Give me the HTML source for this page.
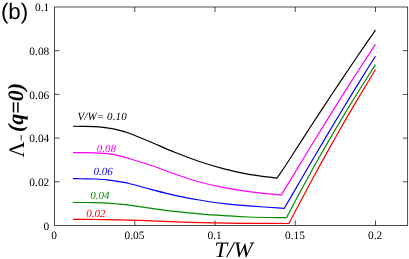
<!DOCTYPE html>
<html><head><meta charset="utf-8"><title>chart</title>
<style>html,body{margin:0;padding:0;background:#fff;overflow:hidden}svg{display:block;will-change:transform;text-rendering:geometricPrecision}</style></head>
<body>
<svg width="409" height="259" viewBox="0 0 409 259">
<rect width="409" height="259" fill="#fff"/>
<g stroke="#000" stroke-width="0.7" fill="none">
<rect x="54.5" y="7.0" width="353.2" height="218.5"/>
<path d="M134.75,225.50 v-5 M134.75,7.00 v5"/>
<path d="M215.00,225.50 v-5 M215.00,7.00 v5"/>
<path d="M295.25,225.50 v-5 M295.25,7.00 v5"/>
<path d="M375.50,225.50 v-5 M375.50,7.00 v5"/>
<path d="M54.50,181.80 h5 M407.75,181.80 h-5"/>
<path d="M54.50,138.10 h5 M407.75,138.10 h-5"/>
<path d="M54.50,94.40 h5 M407.75,94.40 h-5"/>
<path d="M54.50,50.70 h5 M407.75,50.70 h-5"/>
</g>
<path d="M73.00,126.25 C74.55,126.26 78.68,126.24 82.30,126.30 C85.92,126.36 90.58,126.33 94.70,126.60 C98.82,126.87 102.88,127.28 107.00,127.90 C111.12,128.52 115.72,129.40 119.40,130.30 C123.08,131.20 124.00,131.40 129.10,133.30 C134.20,135.20 142.40,138.53 150.00,141.70 C157.60,144.87 166.47,149.00 174.70,152.30 C182.93,155.60 191.17,158.73 199.40,161.50 C207.63,164.27 215.87,166.77 224.10,168.90 C232.33,171.03 239.98,172.77 248.80,174.30 C257.62,175.83 272.30,177.47 277.00,178.10 L285.95,165.02 L294.91,150.98 L303.86,137.06 L312.82,123.26 L321.77,109.57 L330.73,96.00 L339.68,82.56 L348.64,69.23 L357.59,56.02 L366.55,42.92 L375.50,30.10" fill="none" stroke="#000000" stroke-width="1.2" stroke-linejoin="round"/>
<path d="M73.00,152.65 C74.55,152.66 78.68,152.66 82.30,152.70 C85.92,152.74 90.58,152.73 94.70,152.90 C98.82,153.07 102.88,153.22 107.00,153.70 C111.12,154.18 115.72,155.00 119.40,155.80 C123.08,156.60 124.00,156.97 129.10,158.50 C134.20,160.03 142.40,162.42 150.00,165.00 C157.60,167.58 166.47,171.17 174.70,174.00 C182.93,176.83 191.17,179.72 199.40,182.00 C207.63,184.28 215.87,186.10 224.10,187.70 C232.33,189.30 239.28,190.37 248.80,191.60 C258.32,192.83 275.80,194.52 281.20,195.10 L289.77,181.17 L298.35,166.89 L306.92,152.74 L315.49,138.72 L324.06,124.83 L332.64,111.07 L341.21,97.43 L349.78,83.93 L358.35,70.55 L366.93,57.30 L375.50,44.40" fill="none" stroke="#ff00ff" stroke-width="1.2" stroke-linejoin="round"/>
<path d="M73.00,178.70 C74.55,178.71 78.68,178.70 82.30,178.75 C85.92,178.80 90.58,178.82 94.70,179.00 C98.82,179.18 102.88,179.35 107.00,179.80 C111.12,180.25 115.72,181.08 119.40,181.70 C123.08,182.32 124.00,182.27 129.10,183.50 C134.20,184.73 142.40,187.13 150.00,189.10 C157.60,191.07 166.47,193.48 174.70,195.30 C182.93,197.12 191.17,198.60 199.40,200.00 C207.63,201.40 215.87,202.72 224.10,203.70 C232.33,204.68 238.77,205.13 248.80,205.90 C258.83,206.67 278.38,207.90 284.30,208.30 L292.59,194.14 L300.88,179.78 L309.17,165.54 L317.46,151.43 L325.75,137.43 L334.05,123.55 L342.34,109.79 L350.63,96.16 L358.92,82.64 L367.21,69.24 L375.50,56.30" fill="none" stroke="#0000ff" stroke-width="1.2" stroke-linejoin="round"/>
<path d="M73.00,202.50 C74.55,202.50 78.68,202.48 82.30,202.50 C85.92,202.52 90.58,202.50 94.70,202.60 C98.82,202.70 102.88,202.83 107.00,203.10 C111.12,203.37 115.72,203.85 119.40,204.20 C123.08,204.55 124.00,204.55 129.10,205.20 C134.20,205.85 142.40,207.07 150.00,208.10 C157.60,209.13 166.47,210.45 174.70,211.40 C182.93,212.35 191.17,213.10 199.40,213.80 C207.63,214.50 215.87,215.07 224.10,215.60 C232.33,216.13 238.40,216.65 248.80,217.00 C259.20,217.35 280.22,217.58 286.50,217.70 L294.59,202.27 L302.68,187.23 L310.77,172.48 L318.86,158.01 L326.95,143.83 L335.05,129.94 L343.14,116.33 L351.23,103.01 L359.32,89.98 L367.41,77.23 L375.50,64.60" fill="none" stroke="#008b00" stroke-width="1.2" stroke-linejoin="round"/>
<path d="M73.00,219.40 C76.62,219.42 86.97,219.42 94.70,219.50 C102.43,219.58 111.85,219.75 119.40,219.90 C126.95,220.05 132.40,220.15 140.00,220.40 C147.60,220.65 156.67,221.08 165.00,221.40 C173.33,221.72 181.67,222.05 190.00,222.30 C198.33,222.55 206.67,222.73 215.00,222.90 C223.33,223.07 231.67,223.21 240.00,223.30 C248.33,223.39 256.83,223.42 265.00,223.45 C273.17,223.48 285.00,223.49 289.00,223.50 L296.86,208.32 L304.73,193.44 L312.59,178.78 L320.45,164.35 L328.32,150.15 L336.18,136.17 L344.05,122.42 L351.91,108.89 L359.77,95.59 L367.64,82.52 L375.50,69.50" fill="none" stroke="#ff0000" stroke-width="1.2" stroke-linejoin="round"/>
<g font-family="'Liberation Serif', serif" font-size="11.4" fill="#000">
<text x="54.20" y="238.6" text-anchor="middle">0</text>
<text x="134.45" y="238.6" text-anchor="middle">0.05</text>
<text x="214.70" y="238.6" text-anchor="middle">0.1</text>
<text x="294.95" y="238.6" text-anchor="middle">0.15</text>
<text x="375.20" y="238.6" text-anchor="middle">0.2</text>
<text x="49.3" y="229.80" text-anchor="end">0</text>
<text x="49.3" y="186.10" text-anchor="end">0.02</text>
<text x="49.3" y="142.40" text-anchor="end">0.04</text>
<text x="49.3" y="98.70" text-anchor="end">0.06</text>
<text x="49.3" y="55.00" text-anchor="end">0.08</text>
<text x="49.3" y="11.30" text-anchor="end">0.1</text>
</g>
<g font-family="'Liberation Serif', serif" font-size="11" font-style="italic">
<text x="77.5" y="120.2" fill="#000" letter-spacing="0.1">V/W= 0.10</text>
<text x="96.7" y="151.6" fill="#ff00ff">0.08</text>
<text x="93.4" y="175.3" fill="#0000ff">0.06</text>
<text x="90.3" y="199.3" fill="#008b00">0.04</text>
<text x="86.3" y="217.3" fill="#ff0000">0.02</text>
</g>
<text x="0.9" y="19.1" font-family="'Liberation Sans', sans-serif" font-size="22.3" fill="#000">(b)</text>
<text x="214.2" y="257.3" font-family="'Liberation Serif', serif" font-size="22" font-style="italic" fill="#000" textLength="38.6" lengthAdjust="spacingAndGlyphs">T/W</text>
<g transform="translate(24.2,157.6) rotate(-90)" font-family="'Liberation Serif', serif" font-size="22" fill="#000">
<text x="0" y="0">Λ</text>
<path d="M17.3,-3.0 h5.1" stroke="#000" stroke-width="0.9" fill="none"/>
<text x="25.6" y="-1.3" font-weight="bold" font-style="italic">(q=0)</text>
</g>
</svg>
</body></html>
